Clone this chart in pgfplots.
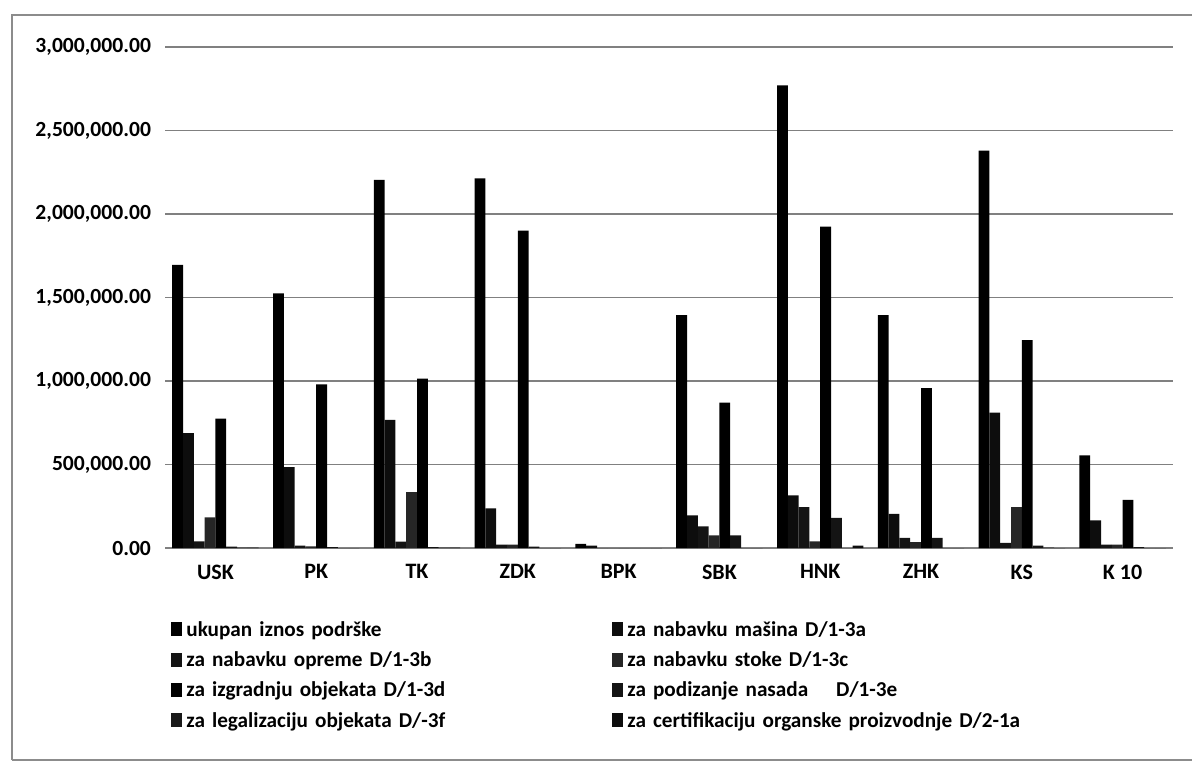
\documentclass[border=0pt]{standalone}
\usepackage{fontspec}
\setmainfont{Carlito}
\usepackage{pgfplots}
\pgfplotsset{compat=1.18}
\definecolor{gridc}{gray}{0.5}
\definecolor{frame}{gray}{0.55}
\newcommand\legfont{\fontsize{10.6}{12}\selectfont\bfseries\spaceskip=2.1pt plus 0.5pt\relax}
\pgfplotstableread{
cat s1 s2 s3 s4 s5 s6 s7 s8
0 1695000 688000 40000 184000 775000 8000 3000 2000
1 1525000 484000 15000 10000 980000 5000 0 0
2 2204000 768000 38000 334000 1014000 5000 3000 2000
3 2214000 238000 20000 20000 1900000 8000 0 0
4 25000 15000 0 0 0 0 0 0
5 1395000 195000 130000 75000 870000 75000 0 0
6 2770000 315000 245000 40000 1925000 180000 0 15000
7 1395000 205000 60000 35000 958000 60000 0 0
8 2380000 810000 30000 245000 1245000 15000 3000 0
9 555000 165000 20000 20000 288000 5000 0 0
}\datatable
\begin{document}
\begin{tikzpicture}[x=1pt,y=1pt]
\useasboundingbox (0,0) rectangle (596,-387.5);
\draw[frame, line width=1pt] (6,-380) -- (6,-7.5) -- (596,-7.5);
\draw[frame, line width=1pt] (6,-380) -- (596,-380);
\begin{axis}[
  at={(82.5pt,-274pt)}, anchor=south west,
  scale only axis, width=504pt, height=250.5pt,
  xmin=-0.5, xmax=9.5, ymin=0, ymax=3000000,
  ybar=0pt, bar width=5.4pt,
  axis x line*=bottom, axis y line*=left,
  y axis line style={draw=none},
  x axis line style={gridc, line width=0.8pt},
  major tick length=0pt,
  ymajorgrids, grid style={gridc, line width=0.8pt},
  ytick={0,500000,1000000,1500000,2000000,2500000,3000000},
  scaled y ticks=false,
  yticklabel style={font=\fontsize{10.8}{13}\selectfont\bfseries, xshift=-3.5pt,
    /pgf/number format/.cd, fixed, fixed zerofill, precision=2, 1000 sep={,}, assume math mode=true},
  xtick={0,...,9},
  xticklabels={USK,PK,TK,ZDK,BPK,SBK,HNK,ZHK,KS,K 10},
  xticklabel style={font=\fontsize{11}{13}\selectfont\bfseries, yshift=-4.8pt},
  legend columns=2,
  legend cell align=left,
  legend style={at={(0.0,-0.13)}, anchor=north west, draw=none, fill=none,
    font=\legfont, row sep=2.2pt,
    nodes={text width=211pt, align=left, inner sep=2pt}},
]
\addplot[draw=none, fill=black, legend image code/.code={\fill[black] (0pt,-3pt) rectangle (5.5pt,4pt);}] table[x=cat,y=s1]{\datatable};
\addplot[draw=none, fill=black!95, legend image code/.code={\fill[black!95] (0pt,-3pt) rectangle (5.5pt,4pt);}] table[x=cat,y=s2]{\datatable};
\addplot[draw=none, fill=black!92, legend image code/.code={\fill[black!92] (0pt,-3pt) rectangle (5.5pt,4pt);}] table[x=cat,y=s3]{\datatable};
\addplot[draw=none, fill=black!85, legend image code/.code={\fill[black!85] (0pt,-3pt) rectangle (5.5pt,4pt);}] table[x=cat,y=s4]{\datatable};
\addplot[draw=none, fill=black, legend image code/.code={\fill[black] (0pt,-3pt) rectangle (5.5pt,4pt);}] table[x=cat,y=s5]{\datatable};
\addplot[draw=none, fill=black!92, legend image code/.code={\fill[black!92] (0pt,-3pt) rectangle (5.5pt,4pt);}] table[x=cat,y=s6]{\datatable};
\addplot[draw=none, fill=black!90, legend image code/.code={\fill[black!90] (0pt,-3pt) rectangle (5.5pt,4pt);}] table[x=cat,y=s7]{\datatable};
\addplot[draw=none, fill=black!95, legend image code/.code={\fill[black!95] (0pt,-3pt) rectangle (5.5pt,4pt);}] table[x=cat,y=s8]{\datatable};
\legend{ukupan iznos podrške, za nabavku mašina D/1-3a, za nabavku opreme D/1-3b, za nabavku stoke D/1-3c, za izgradnju objekata D/1-3d, za podizanje nasada\hspace{14pt}D/1-3e, za legalizaciju objekata D/-3f, za certifikaciju organske proizvodnje D/2-1a}
\end{axis}
\end{tikzpicture}
\end{document}
